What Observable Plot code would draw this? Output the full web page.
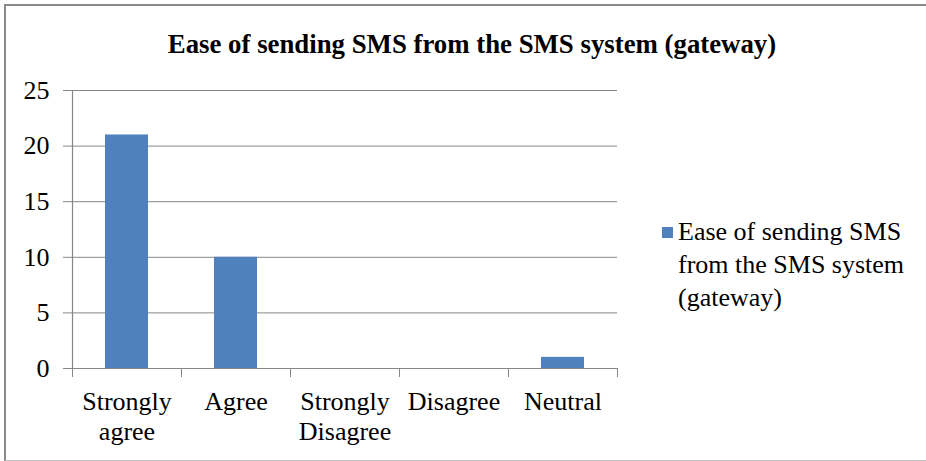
<!DOCTYPE html>
<html><head><meta charset="utf-8">
<script src="https://cdn.jsdelivr.net/npm/d3@7"></script>
<script src="https://cdn.jsdelivr.net/npm/@observablehq/plot@0.6"></script>
<style>
body{margin:0;background:#fff;}
#wrap{position:relative;width:926px;height:461px;overflow:hidden;font-family:"Liberation Serif","Times New Roman",serif;color:#000;}
#frame{position:absolute;left:4px;top:4px;width:930px;height:454px;border-top:2px solid #8a8a8a;border-left:2px solid #8a8a8a;border-bottom:1px solid #c0c0c0;pointer-events:none;}
#title{position:absolute;left:0;width:944px;top:28px;text-align:center;font-weight:bold;font-size:26.8px;line-height:32px;}
#legend{position:absolute;left:662px;top:215px;font-size:26px;line-height:33px;}
#legend .sw{display:inline-block;width:11px;height:11px;background:#4F81BD;margin-right:5px;vertical-align:2px;}
#legend .ln{padding-left:16px;}
#chart{position:absolute;left:0;top:0;}
</style></head>
<body>
<div id="wrap">
  <div id="chart"></div>
  <div id="title"></div>
  <div id="legend"></div>
  <div id="frame"></div>
</div>
<script>
const title = "Ease of sending SMS from the SMS system (gateway)";
const seriesName = ["Ease of sending SMS", "from the SMS system", "(gateway)"];
const categories = ["Strongly\nagree", "Agree", "Strongly\nDisagree", "Disagree", "Neutral"];
const values = [21, 10, 0, 0, 1];
const yTicks = [0, 5, 10, 15, 20, 25];

document.getElementById("title").textContent = title;
const lg = document.getElementById("legend");
seriesName.forEach((t, i) => {
  const d = document.createElement("div");
  if (i === 0) { const s = document.createElement("span"); s.className = "sw"; d.appendChild(s); d.appendChild(document.createTextNode(t)); }
  else { d.className = "ln"; d.textContent = t; }
  lg.appendChild(d);
});

const data = categories.map((c, i) => ({i, c, v: values[i]}));
const centers = categories.map((c, i) => i + 0.5);
const bounds = d3.range(categories.length + 1);

const chart = Plot.plot({
  width: 926, height: 461,
  marginLeft: 72, marginRight: 309, marginTop: 90, marginBottom: 93,
  style: {fontFamily: "'Liberation Serif','Times New Roman',serif", fontSize: "26px", color: "#000", background: "transparent"},
  x: {type: "linear", domain: [0, categories.length]},
  y: {domain: [0, 25]},
  marks: [
    Plot.gridY(yTicks, {stroke: "#868686", strokeOpacity: 1, strokeWidth: 1}),
    Plot.rectY(data, {x1: "i", x2: d => d.i + 1, y: "v", fill: "#4F81BD", insetLeft: 33, insetRight: 33}),
    Plot.ruleY([0], {stroke: "#868686", strokeWidth: 1.2}),
    Plot.ruleX([0], {stroke: "#868686", strokeWidth: 1.2}),
    Plot.axisY({ticks: yTicks, tickSize: 9, tickPadding: 14, stroke: "#868686", fontSize: 26, label: null, fill: "#000"}),
    Plot.axisX({ticks: bounds, tickSize: 9, tickFormat: () => "", stroke: "#868686", label: null}),
    Plot.axisX({ticks: centers, tickSize: 0, tickPadding: 20, tickFormat: d => categories[Math.floor(d)], fontSize: 26, lineHeight: 1.15, label: null, fill: "#000"})
  ]
});
document.getElementById("chart").appendChild(chart);
</script>
</body></html>
